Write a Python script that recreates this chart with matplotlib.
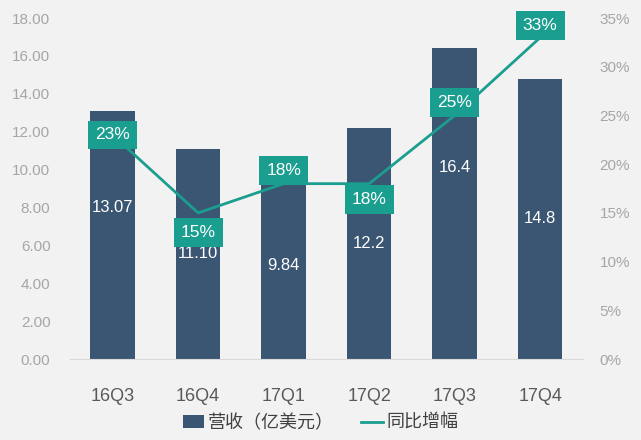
import matplotlib
matplotlib.use("Agg")
import matplotlib.pyplot as plt
from matplotlib.ticker import FuncFormatter

plt.rcParams['font.family'] = ['Liberation Sans', 'Noto Sans CJK SC', 'DejaVu Sans']

quarters = ["16Q3", "16Q4", "17Q1", "17Q2", "17Q3", "17Q4"]
revenue = [13.07, 11.10, 9.84, 12.2, 16.4, 14.8]
revenue_labels = ["13.07", "11.10", "9.84", "12.2", "16.4", "14.8"]
growth = [23, 15, 18, 18, 25, 33]
growth_labels = ["23%", "15%", "18%", "18%", "25%", "33%"]

bar_col = "#3b5673"
line_col = "#1a9e90"
bg = "#f2f2f2"

fig = plt.figure(figsize=(6.41, 4.40), dpi=100, facecolor=bg)
ax = fig.add_axes([0.109, 0.184, 0.8005, 0.775])
ax.set_facecolor(bg)
x = range(len(quarters))

ax.bar(x, revenue, width=0.52, color=bar_col, label="营收（亿美元）", zorder=2)
ax.set_ylim(0, 18)
ax.set_xlim(-0.5, 5.5)
ax.set_yticks(range(0, 19, 2))
ax.yaxis.set_major_formatter(FuncFormatter(lambda v, p: "%.2f" % v))
ax.tick_params(axis='y', length=0, labelsize=11, labelcolor="#a6a6a6", pad=14)
ax.set_xticks(list(x))
ax.set_xticklabels(quarters)
ax.tick_params(axis='x', length=0, labelsize=13, labelcolor="#595959", pad=21)
for s in ["top", "right", "left"]:
    ax.spines[s].set_visible(False)
ax.spines["bottom"].set_color("#d9d9d9")

# value labels inside the bars (two were moved up in the source)
label_y = [v / 2 for v in revenue]
label_y[0] = 8.0
label_y[4] = 10.1
for i, v in enumerate(revenue_labels):
    ax.text(i, label_y[i], v, color="white", fontsize=12, ha="center", va="center", zorder=3)

ax2 = ax.twinx()
ax2.set_ylim(0, 35)
ax2.set_yticks(range(0, 36, 5))
ax2.yaxis.set_major_formatter(FuncFormatter(lambda v, p: "%d%%" % v))
ax2.tick_params(axis='y', length=0, labelsize=11, labelcolor="#a6a6a6", pad=12)
for s in ["top", "right", "left", "bottom"]:
    ax2.spines[s].set_visible(False)
ax2.plot(x, growth, color=line_col, lw=2, label="同比增幅", zorder=4)

# label boxes: centered, below or above the point (pixels)
offsets = [0, -20, 13, -16, 13, 12]
for i, t in enumerate(growth_labels):
    ax2.annotate(t, (i, growth[i]), xytext=(0, offsets[i]), textcoords="offset pixels",
                 ha="center", va="center", color="white", fontsize=12.5, zorder=5,
                 bbox=dict(boxstyle="square,pad=0.4", fc=line_col, ec="none"))

h1, l1 = ax.get_legend_handles_labels()
h2, l2 = ax2.get_legend_handles_labels()
fig.legend(h1 + h2, l1 + l2, loc="center", bbox_to_anchor=(0.5, 0.038), ncol=2,
           frameon=False, fontsize=13, handlelength=1.2, handletextpad=0.2,
           columnspacing=1.5, labelcolor="#404040")

fig.savefig("out.png", dpi=100, facecolor=bg)
